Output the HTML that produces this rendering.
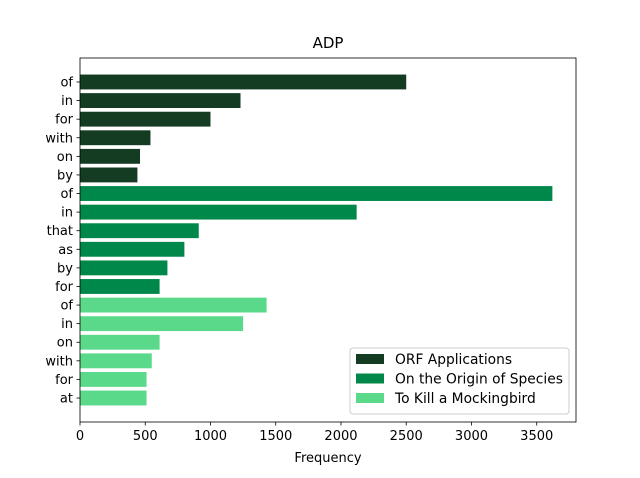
<!DOCTYPE html>
<html><head><meta charset="utf-8"><style>
body{margin:0;background:#fff;font-family:"DejaVu Sans","Liberation Sans",sans-serif}
svg text{font-family:"DejaVu Sans","Liberation Sans",sans-serif;fill:#000}
</style></head><body>
<svg id="chart" width="640" height="474" xmlns="http://www.w3.org/2000/svg">
<text x="328" y="48" font-size="15" text-anchor="middle">ADP</text>
<g id="plot"></g>
</svg>
<script>
const categories = ["of","in","for","with","on","by","of","in","that","as","by","for","of","in","on","with","for","at"];
const values = [2500,1230,1000,540,460,440,3620,2120,910,800,670,610,1430,1250,610,550,510,510];
const groups = [0,0,0,0,0,0,1,1,1,1,1,1,2,2,2,2,2,2];
const seriesNames = ["ORF Applications","On the Origin of Species","To Kill a Mockingbird"];
const xTicks = [0,500,1000,1500,2000,2500,3000,3500];
const colors = ["#143c23","#00884a","#5ad98a"];
const L=80,R=576,T=58,B=422;
const NS="http://www.w3.org/2000/svg";
const g=document.getElementById('plot');
const xmax=Math.max(...values)*1.05;
const n=categories.length;
const span=(n-1+0.8)*1.1;
const x=v=>L+v/xmax*(R-L);
const y=i=>T+((0.4+(n-1+0.8)*0.05)+i)/span*(B-T);
function mk(t,a){const e=document.createElementNS(NS,t);for(const k in a)e.setAttribute(k,a[k]);g.appendChild(e);return e;}
const bh=0.8/span*(B-T);
values.forEach((v,i)=>{
  const r=mk('rect',{x:x(0),y:y(i)-bh/2,width:x(v)-x(0),height:bh,fill:colors[groups[i]]});
  
  
  mk('line',{x1:L-3.5,x2:L,y1:y(i),y2:y(i),stroke:'#000','stroke-width':0.8});
  const t=mk('text',{x:L-7,y:y(i)+4.5,'font-size':13,'text-anchor':'end'});
  t.textContent=categories[i];
  
  
});
const fr=mk('rect',{x:L,y:T,width:R-L,height:B-T,fill:'none',stroke:'#000','stroke-width':0.8});


xTicks.forEach(v=>{
  mk('line',{x1:x(v),x2:x(v),y1:B,y2:B+3.5,stroke:'#000','stroke-width':0.8});
  const t=mk('text',{x:x(v),y:B+18,'font-size':13,'text-anchor':'middle'});
  t.textContent=v;
  
  
});
const xl=mk('text',{x:(L+R)/2,y:B+40,'font-size':13,'text-anchor':'middle'});
xl.textContent='Frequency';


const lg=mk('rect',{x:350,y:348,width:219,height:66,rx:3,fill:'#fff','fill-opacity':0.8,stroke:'#ccc'});


seriesNames.forEach((s,k)=>{
  const yy=359+k*19.5;
  mk('rect',{x:356,y:yy-5,width:28,height:10,fill:colors[k]});
  const t=mk('text',{x:395,y:yy+5,'font-size':13.8});
  t.textContent=s;
  
  
});
</script>
</body></html>
